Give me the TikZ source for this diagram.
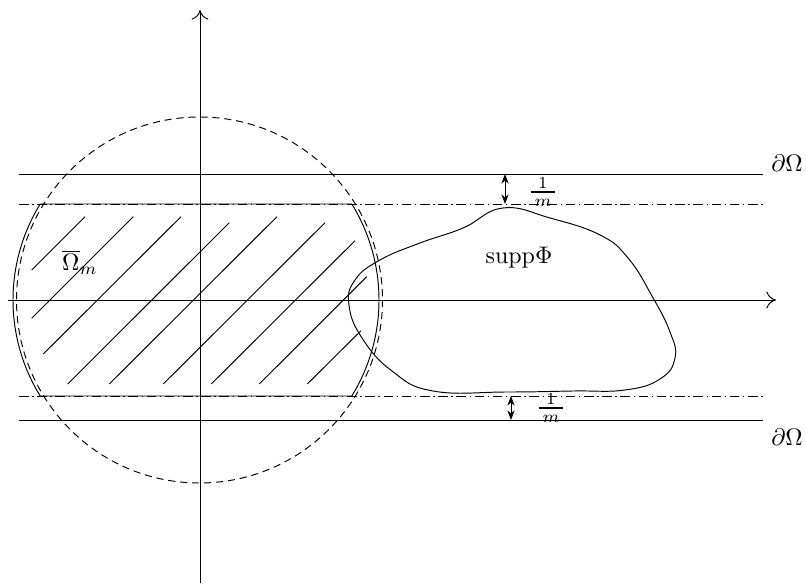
\documentclass[tikz,border=0pt]{standalone}
\usepackage{amsmath}
\usetikzlibrary{arrows.meta}
\begin{document}
\begin{tikzpicture}[x=0.417pt,y=-0.417pt,
  bline/.style={line width=0.4pt},
  ddline/.style={line width=0.4pt,dash pattern=on 4pt off 1.5pt on 0.6pt off 1.5pt},
  hatch/.style={line width=0.4pt},
  gap/.style={{Stealth[length=4pt,width=3pt]}-{Stealth[length=4pt,width=3pt]},line width=0.4pt},
  lbl/.style={inner sep=0pt}]
\useasboundingbox (0,0) rectangle (806,584);
% axes
\coordinate (xs) at (8,300); \coordinate (xe) at (776,300);
\coordinate (ys) at (200,583); \coordinate (ye) at (200,10);
\draw[-{To[length=4pt,width=7pt]}] (xs) -- (xe);
\draw[-{To[length=4pt,width=7pt]}] (ys) -- (ye);
% boundary lines
\coordinate (t1) at (19,174); \coordinate (t2) at (763,174);
\coordinate (d1) at (19,204); \coordinate (d2) at (763,204);
\coordinate (d3) at (19,396); \coordinate (d4) at (763,396);
\coordinate (b1) at (19,420); \coordinate (b2) at (763,420);
\draw[bline] (t1) -- (t2);
\draw[bline] (b1) -- (b2);
\draw[ddline] (d1) -- (d2);
\draw[ddline] (d3) -- (d4);
% dashed circle
\draw[dashed,dash pattern=on 3pt off 2pt] (199.5,300) circle[radius=183];
% solid Omega_m boundary
\draw[bline] (40.2,204) -- (351.8,204)
  arc[start angle={-asin(96/183)}, end angle={asin(96/183)}, radius=183]
  -- (40.2,396)
  arc[start angle={180-asin(96/183)}, end angle={180+asin(96/183)}, radius=183];
% hatching
\draw[hatch] (31.7,270) -- (85,216.7);
\draw[hatch] (31.7,318.3) -- (133.3,216.7);
\draw[hatch] (43.3,354) -- (181,216.7);
\draw[hatch] (67.7,384) -- (229.3,222.7);
\draw[hatch] (109.3,384) -- (277,216.7);
\draw[hatch] (163.3,384) -- (325,222.7);
\draw[hatch] (211.3,384) -- (355,240.7);
\draw[hatch] (259.3,384) -- (366.7,276.7);
\draw[hatch] (307.3,384) -- (361,330.7);
% supp Phi blob
\draw[bline] plot[smooth cycle,tension=0.75] coordinates {
  (503,208) (550,218) (600,235) (628,258) (652,296) (670,332) (675,358)
  (660,379) (625,390) (573,391) (507,392) (433,391) (392,371) (362,338) (349,305)
  (355,280) (380,260) (420,243) (463,228)};
% gap arrows
\coordinate (ga1) at (505,174); \coordinate (ga2) at (505,204);
\coordinate (gb1) at (511,396); \coordinate (gb2) at (511,420);
\draw[gap] (ga1) -- (ga2);
\draw[gap] (gb1) -- (gb2);
% labels
\node[lbl] (m1) at (543,192) {$\genfrac{}{}{0.7pt}{1}{\,1\,}{\,m\,}$};
\node[lbl] (m2) at (551,408) {$\genfrac{}{}{0.7pt}{1}{\,1\,}{\,m\,}$};
\node[lbl] (om) at (80,262) {$\overline{\Omega}_m$};
\node[lbl] (sp) at (519,258) {$\mathrm{supp}\Phi$};
\node[lbl] (do1) at (787,163) {$\partial\Omega$};
\node[lbl] (do2) at (787,437) {$\partial\Omega$};
\end{tikzpicture}
\end{document}
